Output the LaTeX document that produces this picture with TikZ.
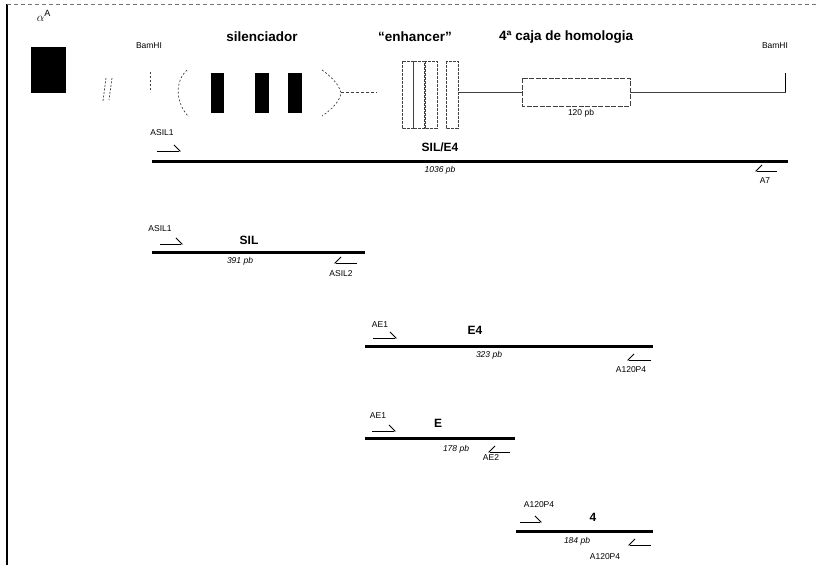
\documentclass[tikz,border=0pt]{standalone}
\usepackage{fontspec}
\setmainfont{Liberation Sans}
\usetikzlibrary{arrows.meta}
\begin{document}
\begin{tikzpicture}[x=1pt,y=-1pt,
 title/.style={font=\fontsize{13.5}{13.5}\selectfont\bfseries, inner sep=0pt},
 frag/.style={font=\fontsize{12}{12}\selectfont\bfseries, inner sep=0pt},
 small/.style={font=\fontsize{8.5}{9}\selectfont, inner sep=0pt},
 size/.style={font=\fontsize{8.5}{9}\selectfont\itshape, inner sep=0pt},
 pcr/.style={line width=3pt},
 fwd/.style={line width=0.9pt, -{Straight Barb[left,length=6pt,width=12pt]}},
 rev/.style={line width=0.9pt, -{Straight Barb[right,length=6pt,width=12pt]}},
 map/.style={line width=0.7pt, black!75},
 dmap/.style={map, dash pattern=on 3pt off 2pt},
 blackbox/.style={fill=black, draw=none},
]
\useasboundingbox (0,0) rectangle (817,565);
% frame
\coordinate (fTL) at (7,4);
\coordinate (fTR) at (817,4);
\coordinate (fBL) at (7,565);
\draw[line width=1.8pt] (fTL) -- (fBL);
\draw[line width=0.6pt, black!55, dash pattern=on 4pt off 3pt] (fTL) -- (fTR);

% alpha A
\node[inner sep=0pt, font=\fontsize{13}{13}\selectfont] (alpha) at (44,16) {$\alpha^{\mathrm{A}}$};
\fill[blackbox] (31,47) rectangle (66,93);
% break marks
\coordinate (b1a) at (106,78); \coordinate (b1b) at (103,101);
\coordinate (b2a) at (112,78); \coordinate (b2b) at (109,100);
\draw[dmap, dash pattern=on 2pt off 1.5pt] (b1a) -- (b1b);
\draw[dmap, dash pattern=on 2pt off 1.5pt] (b2a) -- (b2b);
% BamHI left
\node[small] (bam1) at (149,46) {BamHI};
\coordinate (bv1) at (150,72); \coordinate (bv2) at (150,92);
\draw[dmap, dash pattern=on 2pt off 2pt] (bv1) -- (bv2);
% silencer brackets
\coordinate (lpa) at (187,70); \coordinate (lpb) at (189,117);
\draw[dmap, dash pattern=on 2pt off 2pt] (lpa) .. controls (174,82) and (176,104) .. (lpb);
\coordinate (rpa) at (322,70); \coordinate (rpb) at (322,116);
\draw[dmap, dash pattern=on 2pt off 2pt] (rpa) .. controls (336,80) and (340,88) .. (341,93) .. controls (340,100) and (334,108) .. (rpb);
\fill[blackbox] (211,73) rectangle (224,113);
\fill[blackbox] (255,73) rectangle (269,113);
\fill[blackbox] (288,73) rectangle (302,113);
\node[title] (sil) at (262,37) {silenciador};
% link silencer - enhancer
\coordinate (l1a) at (341,92); \coordinate (l1b) at (377,92);
\draw[dmap] (l1a) -- (l1b);
% enhancer
\node[title] (enh) at (415,37) {“enhancer”};
\draw[dmap, dash pattern=on 3pt off 1pt] (402,61) rectangle (413,128);
\draw[dmap, dash pattern=on 3pt off 1pt] (413,61) rectangle (424,128);
\draw[dmap, dash pattern=on 3pt off 1pt] (425,61) rectangle (437,128);
\draw[dmap, dash pattern=on 3pt off 1pt] (446,61) rectangle (458,128);
\coordinate (l2a) at (458,92); \coordinate (l2b) at (522,92);
\draw[map] (l2a) -- (l2b);
% homology box
\node[title, anchor=west] (hom) at (499,37) {4ª caja de homologia};
\draw[dmap, dash pattern=on 5pt off 1.5pt] (522,78) rectangle (630,106) ;
\node[small] (p120) at (581,113) {120 pb};
\coordinate (l3a) at (630,92); \coordinate (l3b) at (786,92);
\draw[map] (l3a) -- (l3b);
\coordinate (bv3) at (785,73);
\draw[line width=0.9pt] (bv3) -- (785,92);
\node[small] (bam2) at (775,46) {BamHI};

% SIL/E4
\coordinate (s1a) at (152,161); \coordinate (s1b) at (788,161);
\draw[pcr] (s1a) -- (s1b);
\node[small] (asil1a) at (162,133) {ASIL1};
\coordinate (f1a) at (157,151); \coordinate (f1b) at (181,151);
\draw[fwd] (f1a) -- (f1b);
\node[frag] (t1) at (440,147) {SIL/E4};
\node[size] (n1) at (440,170) {1036 pb};
\coordinate (r1a) at (777,171); \coordinate (r1b) at (755,171);
\draw[rev] (r1a) -- (r1b);
\node[small] (a7) at (765,181) {A7};

% SIL
\coordinate (s2a) at (152,252); \coordinate (s2b) at (365,252);
\draw[pcr] (s2a) -- (s2b);
\node[small] (asil1b) at (160,229) {ASIL1};
\coordinate (f2a) at (160,244); \coordinate (f2b) at (183,244);
\draw[fwd] (f2a) -- (f2b);
\node[frag] (t2) at (249,240) {SIL};
\node[size] (n2) at (240,261) {391 pb};
\coordinate (r2a) at (357,263); \coordinate (r2b) at (334,263);
\draw[rev] (r2a) -- (r2b);
\node[small] (asil2) at (341,274) {ASIL2};

% E4
\coordinate (s3a) at (365,346); \coordinate (s3b) at (653,346);
\draw[pcr] (s3a) -- (s3b);
\node[small] (ae1a) at (380,325) {AE1};
\coordinate (f3a) at (373,338); \coordinate (f3b) at (397,338);
\draw[fwd] (f3a) -- (f3b);
\node[frag] (t3) at (475,330) {E4};
\node[size] (n3) at (489,355) {323 pb};
\coordinate (r3a) at (651,360); \coordinate (r3b) at (627,360);
\draw[rev] (r3a) -- (r3b);
\node[small] (a120a) at (631,370) {A120P4};

% E
\coordinate (s4a) at (365,438); \coordinate (s4b) at (515,438);
\draw[pcr] (s4a) -- (s4b);
\node[small] (ae1b) at (378,416) {AE1};
\coordinate (f4a) at (372,431); \coordinate (f4b) at (396,431);
\draw[fwd] (f4a) -- (f4b);
\node[frag] (t4) at (438,423) {E};
\node[size] (n4) at (456,449) {178 pb};
\coordinate (r4a) at (510,452); \coordinate (r4b) at (488,452);
\draw[rev] (r4a) -- (r4b);
\node[small] (ae2) at (491,458) {AE2};

% 4
\coordinate (s5a) at (516,531); \coordinate (s5b) at (653,531);
\draw[pcr] (s5a) -- (s5b);
\node[small] (a120b) at (539,505) {A120P4};
\coordinate (f5a) at (520,522); \coordinate (f5b) at (542,522);
\draw[fwd] (f5a) -- (f5b);
\node[frag] (t5) at (593,517) {4};
\node[size] (n5) at (577,541) {184 pb};
\coordinate (r5a) at (651,545); \coordinate (r5b) at (628,545);
\draw[rev] (r5a) -- (r5b);
\node[small] (a120c) at (605,557) {A120P4};
\end{tikzpicture}
\end{document}
